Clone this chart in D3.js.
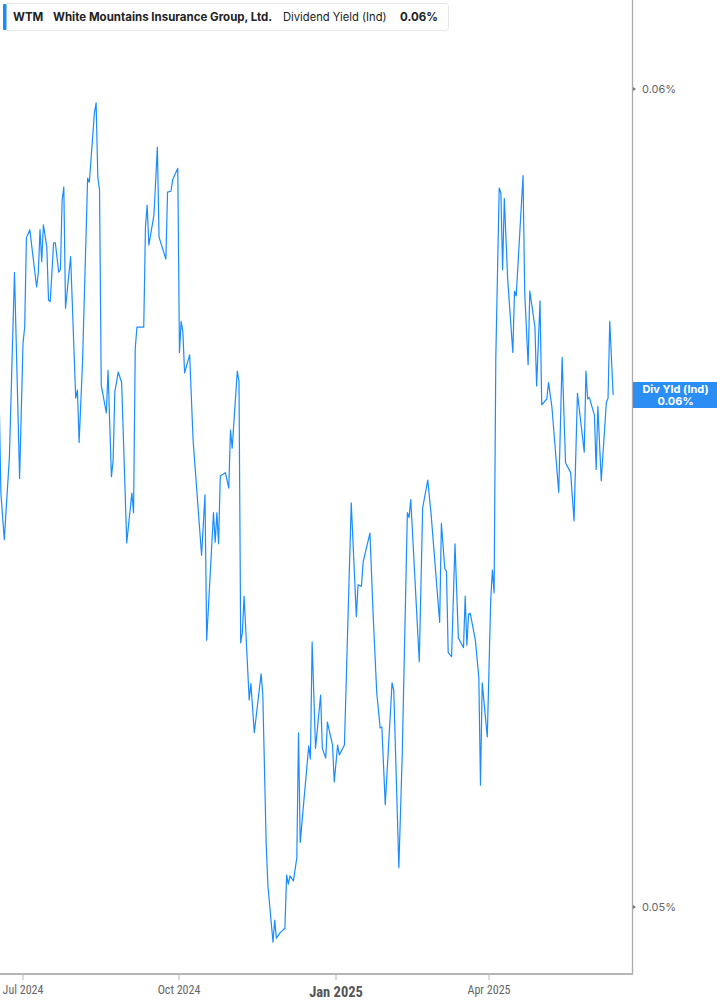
<!DOCTYPE html>
<html>
<head>
<meta charset="utf-8">
<title>WTM Dividend Yield</title>
<style>
body { margin: 0; background: #fff; font-family: Inter, Roboto, "Noto Sans", sans-serif; }
svg { display: block; }
</style>
<script src="https://d3js.org/d3.v7.min.js"></script>
</head>
<body>
<script>
var dates = [
  "2024-06-17","2024-06-18","2024-06-20","2024-06-23","2024-06-26","2024-06-29","2024-07-01","2024-07-02","2024-07-03","2024-07-05",
  "2024-07-09","2024-07-10","2024-07-11","2024-07-12","2024-07-13","2024-07-15","2024-07-16","2024-07-17","2024-07-19","2024-07-20",
  "2024-07-22","2024-07-23","2024-07-24","2024-07-25","2024-07-26","2024-07-29","2024-08-01","2024-08-02","2024-08-03","2024-08-05",
  "2024-08-08","2024-08-09","2024-08-12","2024-08-13","2024-08-14","2024-08-15","2024-08-16","2024-08-19","2024-08-20","2024-08-22",
  "2024-08-23","2024-08-24","2024-08-26","2024-08-28","2024-08-31","2024-09-03","2024-09-04","2024-09-05","2024-09-06","2024-09-10",
  "2024-09-11","2024-09-12","2024-09-13","2024-09-16","2024-09-18","2024-09-19","2024-09-23","2024-09-24","2024-09-26","2024-09-27",
  "2024-09-30","2024-10-01","2024-10-02","2024-10-03","2024-10-04","2024-10-07","2024-10-09","2024-10-14","2024-10-16","2024-10-17",
  "2024-10-21","2024-10-22","2024-10-23","2024-10-24","2024-10-25","2024-10-28","2024-10-30","2024-10-31","2024-11-01","2024-11-04",
  "2024-11-05","2024-11-06","2024-11-07","2024-11-08","2024-11-11","2024-11-12","2024-11-14","2024-11-18","2024-11-19","2024-11-21",
  "2024-11-22","2024-11-25","2024-11-26","2024-11-27","2024-11-29","2024-12-02","2024-12-03","2024-12-04","2024-12-05","2024-12-07",
  "2024-12-09","2024-12-10","2024-12-11","2024-12-16","2024-12-17","2024-12-18","2024-12-20","2024-12-23","2024-12-24","2024-12-26",
  "2024-12-27","2024-12-30","2024-12-31","2025-01-02","2025-01-03","2025-01-06","2025-01-10","2025-01-13","2025-01-14","2025-01-16",
  "2025-01-17","2025-01-21","2025-01-23","2025-01-25","2025-01-27","2025-01-28","2025-01-30","2025-02-03","2025-02-04","2025-02-07",
  "2025-02-09","2025-02-12","2025-02-13","2025-02-14","2025-02-19","2025-02-21","2025-02-24","2025-02-26","2025-03-03","2025-03-04",
  "2025-03-06","2025-03-07","2025-03-08","2025-03-10","2025-03-12","2025-03-14","2025-03-17","2025-03-18","2025-03-19","2025-03-20",
  "2025-03-21","2025-03-24","2025-03-26","2025-03-27","2025-03-28","2025-03-31","2025-04-02","2025-04-03","2025-04-04","2025-04-05",
  "2025-04-07","2025-04-08","2025-04-09","2025-04-10","2025-04-12","2025-04-15","2025-04-16","2025-04-17","2025-04-21","2025-04-22",
  "2025-04-24","2025-04-25","2025-04-28","2025-04-29","2025-05-01","2025-05-02","2025-05-05","2025-05-06","2025-05-08","2025-05-12",
  "2025-05-14","2025-05-16","2025-05-19","2025-05-21","2025-05-23","2025-05-27","2025-05-28","2025-05-29","2025-05-30","2025-06-02",
  "2025-06-03","2025-06-04","2025-06-06","2025-06-09","2025-06-10","2025-06-11","2025-06-13"
];
var yields = [
  0.05620,0.05506,0.05449,0.05550,0.05776,0.05524,0.05689,0.05709,0.05818,0.05828,
  0.05758,0.05775,0.05828,0.05789,0.05834,0.05807,0.05742,0.05740,0.05812,0.05812,
  0.05776,0.05779,0.05864,0.05880,0.05732,0.05795,0.05622,0.05632,0.05568,0.05666,
  0.05891,0.05886,0.05971,0.05983,0.05892,0.05877,0.05638,0.05604,0.05656,0.05526,
  0.05546,0.05630,0.05654,0.05641,0.05445,0.05506,0.05482,0.05683,0.05709,0.05709,
  0.05831,0.05858,0.05809,0.05846,0.05929,0.05819,0.05792,0.05874,0.05875,0.05889,
  0.05903,0.05678,0.05716,0.05703,0.05653,0.05675,0.05571,0.05430,0.05504,0.05326,
  0.05482,0.05446,0.05482,0.05444,0.05527,0.05531,0.05512,0.05583,0.05561,0.05655,
  0.05643,0.05323,0.05336,0.05380,0.05253,0.05273,0.05213,0.05285,0.05260,0.05076,
  0.05026,0.04957,0.04984,0.04962,0.04968,0.04974,0.05039,0.05028,0.05038,0.05032,
  0.05060,0.05213,0.05079,0.05197,0.05181,0.05324,0.05194,0.05259,0.05194,0.05182,
  0.05226,0.05198,0.05153,0.05198,0.05186,0.05198,0.05494,0.05355,0.05394,0.05392,
  0.05422,0.05457,0.05351,0.05262,0.05219,0.05220,0.05125,0.05274,0.05265,0.05048,
  0.05188,0.05482,0.05476,0.05498,0.05300,0.05488,0.05522,0.05479,0.05348,0.05469,
  0.05414,0.05410,0.05311,0.05306,0.05444,0.05329,0.05317,0.05380,0.05320,0.05358,
  0.05359,0.05326,0.05281,0.05149,0.05274,0.05208,0.05375,0.05412,0.05384,0.05671,
  0.05879,0.05873,0.05779,0.05866,0.05767,0.05678,0.05753,0.05747,0.05894,0.05751,
  0.05663,0.05753,0.05709,0.05637,0.05741,0.05614,0.05621,0.05641,0.05611,0.05507,
  0.05672,0.05543,0.05531,0.05472,0.05628,0.05556,0.05655,0.05621,0.05623,0.05601,
  0.05535,0.05612,0.05521,0.05617,0.05622,0.05716,0.05626
];
var yTicks = [0.05, 0.06];
var xTicks = ["2024-07-01", "2024-10-01", "2025-01-01", "2025-04-01"];
var ticker = "WTM",
    company = "White Mountains Insurance Group, Ltd.",
    metric = "Dividend Yield (Ind)",
    lastLabel = "0.06%",
    tagName = "Div Yld (Ind)";

var W = 717, H = 1005,
    plotW = 632, plotH = 974;
var parse = d3.timeParse("%Y-%m-%d");
var data = dates.map(function(d, i) { return {date: parse(d), v: yields[i]}; });

var x = d3.scaleTime()
    .domain([parse("2024-07-01"), parse("2025-04-01")])
    .range([23, 489]);
var y = d3.scaleLinear()
    .domain([0.05, 0.06])
    .range([907, 89]);

var svg = d3.select("body").append("svg")
    .attr("width", W)
    .attr("height", H);

svg.append("defs").append("clipPath").attr("id", "clip")
  .append("rect").attr("x", 0).attr("y", 0).attr("width", plotW).attr("height", plotH);

// line
var line = d3.line()
    .x(function(d) { return x(d.date); })
    .y(function(d) { return y(d.v); });

svg.append("path")
    .datum(data)
    .attr("clip-path", "url(#clip)")
    .attr("fill", "none")
    .attr("stroke", "#1a8cff")
    .attr("stroke-width", 1.2)
    .attr("stroke-linejoin", "round")
    .attr("d", line);

// frame: right and bottom
svg.append("line")
    .attr("x1", plotW + 0.5).attr("x2", plotW + 0.5)
    .attr("y1", 0).attr("y2", plotH)
    .attr("stroke", "#aaa").attr("stroke-width", 1.3);
svg.append("line")
    .attr("x1", 0).attr("x2", plotW + 1)
    .attr("y1", plotH).attr("y2", plotH)
    .attr("stroke", "#b5b5b5").attr("stroke-width", 2);

// y ticks on the right
var yt = svg.selectAll("g.ytick")
    .data(yTicks)
  .enter().append("g")
    .attr("class", "ytick")
    .attr("transform", function(d) { return "translate(" + plotW + "," + y(d) + ")"; });
yt.append("path")
    .attr("d", "M1,-2L4,0L1,2Z")
    .attr("fill", "#777");
yt.append("text")
    .attr("x", 10)
    .attr("dy", "0.35em")
    .attr("font-size", "11px")
    .attr("fill", "#666")
    .text(function(d) { return d3.format(".2f")(d) + "%"; });

// x ticks
var xt = svg.selectAll("g.xtick")
    .data(xTicks.map(parse))
  .enter().append("g")
    .attr("class", "xtick")
    .attr("transform", function(d) { return "translate(" + Math.round(x(d)) + "," + plotH + ")"; });
xt.append("line")
    .attr("y1", 0).attr("y2", 6)
    .attr("stroke", "#b5b5b5");
xt.append("text")
    .attr("y", function(d) { return d.getMonth() == 0 ? 23 : 20; })
    .attr("text-anchor", "middle")
    .attr("font-family", "'Liberation Sans Narrow', 'Roboto Condensed', sans-serif")
    .attr("font-size", function(d) { return d.getMonth() == 0 ? "14.5px" : "12px"; })
    .attr("font-weight", function(d) { return d.getMonth() == 0 ? "bold" : "normal"; })
    .attr("fill", function(d) { return d.getMonth() == 0 ? "#555" : "#666"; })
    .text(function(d) { return d3.timeFormat("%b %Y")(d); });

// end tag
var last = data[data.length - 1];
var tag = svg.append("g")
    .attr("transform", "translate(" + (plotW + 1) + "," + Math.round(y(last.v)) + ")");
tag.append("rect")
    .attr("x", 0).attr("y", -13)
    .attr("width", W - plotW - 1).attr("height", 26)
    .attr("fill", "#2b8ef5");
tag.append("text")
    .attr("x", (W - plotW) / 2).attr("y", -2)
    .attr("text-anchor", "middle")
    .attr("font-size", "11px").attr("font-weight", "bold")
    .attr("fill", "#fff")
    .text(tagName);
tag.append("text")
    .attr("x", (W - plotW) / 2).attr("y", 10)
    .attr("text-anchor", "middle")
    .attr("font-size", "11px").attr("font-weight", "bold")
    .attr("fill", "#fff")
    .text(d3.format(".2f")(last.v) + "%");

// legend box
var lg = svg.append("g").attr("transform", "translate(3,3)");
lg.append("rect")
    .attr("x", 0.5).attr("y", 0.5)
    .attr("width", 445).attr("height", 27)
    .attr("rx", 3)
    .attr("fill", "#fff")
    .attr("stroke", "#e6e6e6");
lg.append("rect")
    .attr("x", 0).attr("y", 1)
    .attr("width", 3.5).attr("height", 26)
    .attr("rx", 1)
    .attr("fill", "#1a8cff");
var lt = lg.append("text")
    .attr("x", 10).attr("y", 18)
    .attr("font-size", "11.5px")
    .attr("fill", "#222");
lt.append("tspan").attr("font-weight", "bold").text(ticker);
lt.append("tspan").attr("x", 50).attr("font-weight", "bold").text(company);
lt.append("tspan").attr("x", 280).attr("font-size", "11.2px").text(metric);
lt.append("tspan").attr("x", 397).attr("font-weight", "bold").text(lastLabel);
</script>
</body>
</html>
